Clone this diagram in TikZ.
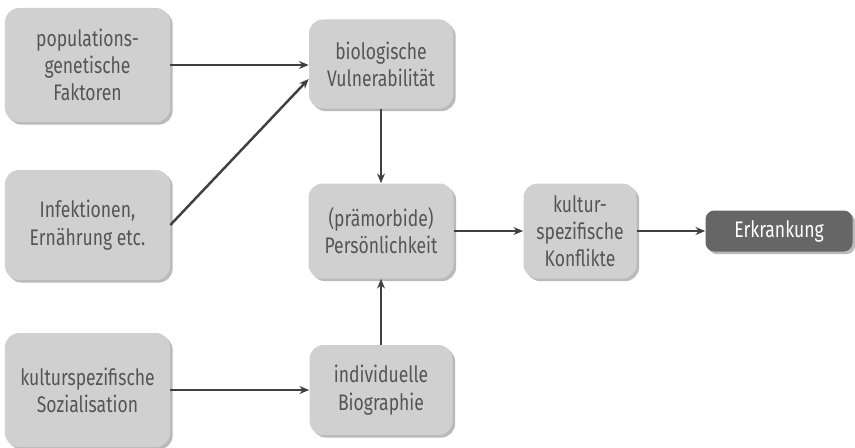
\documentclass[tikz,border=0pt]{standalone}
\usepackage{fontspec}
\setmainfont[FakeStretch=0.78]{Fira Sans}
\usepackage{tikz}
\usetikzlibrary{arrows.meta,shadows}
\usepackage{xcolor}
\definecolor{BoxGray}{RGB}{208,208,208}
\definecolor{TextGray}{RGB}{85,85,85}
\definecolor{DarkBox}{RGB}{102,102,102}
\definecolor{LineGray}{RGB}{64,64,64}
\tikzset{
  factor/.style={rounded corners=8pt, fill=BoxGray, align=center,
    text=TextGray, font=\fontsize{12.8}{15.5}\selectfont,
    drop shadow={shadow xshift=1.5pt, shadow yshift=-1.5pt, fill=black!45, opacity=0.6}},
  outcome/.style={rounded corners=5pt, fill=DarkBox, align=center,
    text=white, font=\fontsize{12.8}{15.5}\selectfont,
    drop shadow={shadow xshift=1.5pt, shadow yshift=-1.5pt, fill=black!45, opacity=0.6}},
  arrow/.style={-{Stealth[length=5.5pt,width=4.5pt]}, line width=1.4pt, LineGray}
}
\begin{document}
\begin{tikzpicture}
  \useasboundingbox (0,0) rectangle (17.1,8.94);
  \node[factor, minimum width=3.3cm, minimum height=2.28cm] (pop) at (1.75,7.64) {populations-\\genetische\\Faktoren};
  \node[factor, minimum width=2.88cm, minimum height=1.78cm] (bio) at (7.62,7.66) {biologische\\Vulnerabilität};
  \node[factor, minimum width=3.3cm, minimum height=2.2cm] (inf) at (1.75,4.44) {Infektionen,\\Ernährung etc.};
  \node[factor, minimum width=2.9cm, minimum height=1.9cm] (pers) at (7.62,4.32) {(prämorbide)\\Persönlichkeit};
  \node[factor, minimum width=2.26cm, minimum height=1.9cm] (konf) at (11.6,4.32) {kultur-\\spezifische\\Konflikte};
  \node[outcome, minimum width=2.94cm, minimum height=0.82cm] (erk) at (15.58,4.32) {Erkrankung};
  \node[factor, minimum width=3.3cm, minimum height=2.28cm] (soz) at (1.75,1.14) {kulturspezifische\\Sozialisation};
  \node[factor, minimum width=2.86cm, minimum height=1.8cm] (ind) at (7.62,1.14) {individuelle\\Biographie};

  \draw[arrow] (pop.east) -- (pop.east -| bio.west);
  \draw[arrow] (inf.east) -- ([yshift=-0.3cm]bio.west);
  \draw[arrow] (bio) -- (pers);
  \draw[arrow] (ind) -- (pers);
  \draw[arrow] (soz) -- (ind);
  \draw[arrow] (pers) -- (konf);
  \draw[arrow] (konf) -- (erk);
\end{tikzpicture}
\end{document}
